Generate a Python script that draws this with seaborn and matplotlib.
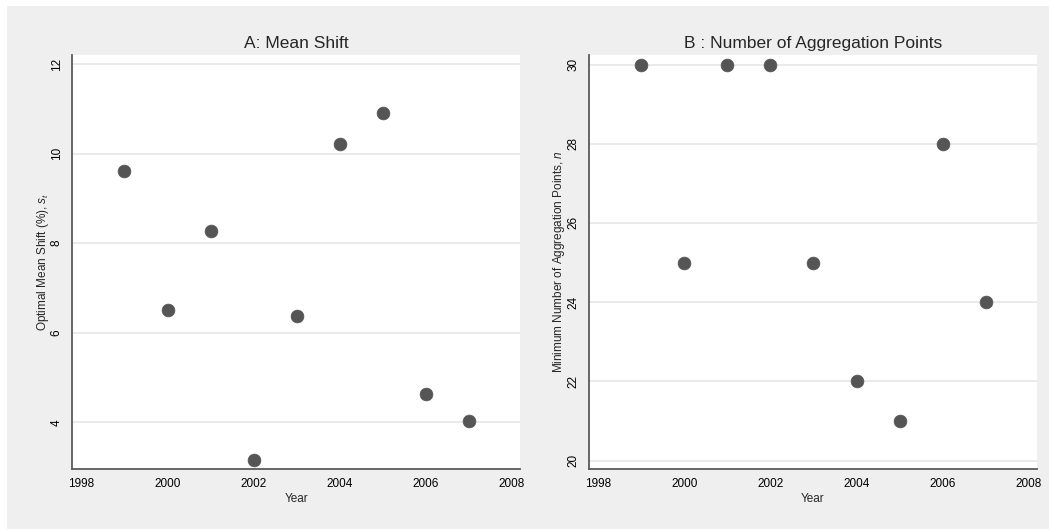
import matplotlib
matplotlib.use("Agg")
import matplotlib.pyplot as plt
from matplotlib.patches import Rectangle
import seaborn as sns
import pandas as pd

years = [1999, 2000, 2001, 2002, 2003, 2004, 2005, 2006, 2007]
mean_shift = [9.6, 6.5, 8.27, 3.16, 6.37, 10.21, 10.91, 4.63, 4.04]
agg_points = [30, 25, 30, 30, 25, 22, 21, 28, 24]
x_ticks = [1998, 2000, 2002, 2004, 2006, 2008]
yticks_a = [4, 6, 8, 10, 12]
yticks_b = [20, 22, 24, 26, 28, 30]
title_a = "A: Mean Shift"
title_b = "B : Number of Aggregation Points"
ylabel_a = r"Optimal Mean Shift (%), $s_t$"
ylabel_b = r"Minimum Number of Aggregation Points, $n$"
xlabel = "Year"

df = pd.DataFrame({"Year": years, "shift": mean_shift, "points": agg_points})

sns.set_style("white")
plt.rcParams["font.family"] = ["Liberation Sans", "DejaVu Sans"]
plt.rcParams["mathtext.fontset"] = "custom"
plt.rcParams["mathtext.rm"] = "Liberation Sans"
plt.rcParams["mathtext.it"] = "Liberation Sans:italic"

W, H = 1049, 529
fig = plt.figure(figsize=(W / 100, H / 100), dpi=100, facecolor="white")
fig.patches.append(Rectangle((7 / W, 0), 1, 1 - 6 / H, transform=fig.transFigure,
                             facecolor="#efefef", edgecolor="none", zorder=-10))

bottom = 1 - 468.5 / H
top = 1 - 55 / H
ax_a = fig.add_axes([72.4 / W, bottom, (520 - 72.4) / W, top - bottom])
ax_b = fig.add_axes([589 / W, bottom, (1037 - 589) / W, top - bottom])

mcol = "#555555"
spine_col = "#5a5a5a"

def style(ax, ycol, yticks, ylim, title, ylabel):
    sns.scatterplot(data=df, x="Year", y=ycol, ax=ax, s=85, color=mcol,
                    edgecolor=mcol, linewidth=0.5, zorder=3)
    ax.set_facecolor("white")
    ax.set_xlim(1997.79, 2008.19)
    ax.set_ylim(*ylim)
    ax.set_xticks(x_ticks)
    ax.set_yticks(yticks)
    ax.set_yticklabels([str(t) for t in yticks], rotation=90, va="center")
    for s in ["top", "right"]:
        ax.spines[s].set_visible(False)
    for s in ["left", "bottom"]:
        ax.spines[s].set_color(spine_col)
        ax.spines[s].set_linewidth(1.3)
    ax.tick_params(axis="both", direction="out", length=5, width=1.1,
                   color=spine_col, labelsize=8.5, labelcolor="black", pad=2)
    ax.grid(axis="y", color="#e8e8e8", linewidth=1.3)
    ax.grid(axis="x", visible=False)
    ax.set_axisbelow(True)
    ax.set_title(title, fontsize=12.5, pad=5)
    ax.set_xlabel(xlabel, fontsize=8.5, labelpad=2)
    ax.set_ylabel(ylabel, fontsize=8.5, labelpad=0)

style(ax_a, "shift", yticks_a, (2.97, 12.2), title_a, ylabel_a)
style(ax_b, "points", yticks_b, (19.8, 30.24), title_b, ylabel_b)

fig.savefig("out.png", dpi=100, facecolor=fig.get_facecolor())
